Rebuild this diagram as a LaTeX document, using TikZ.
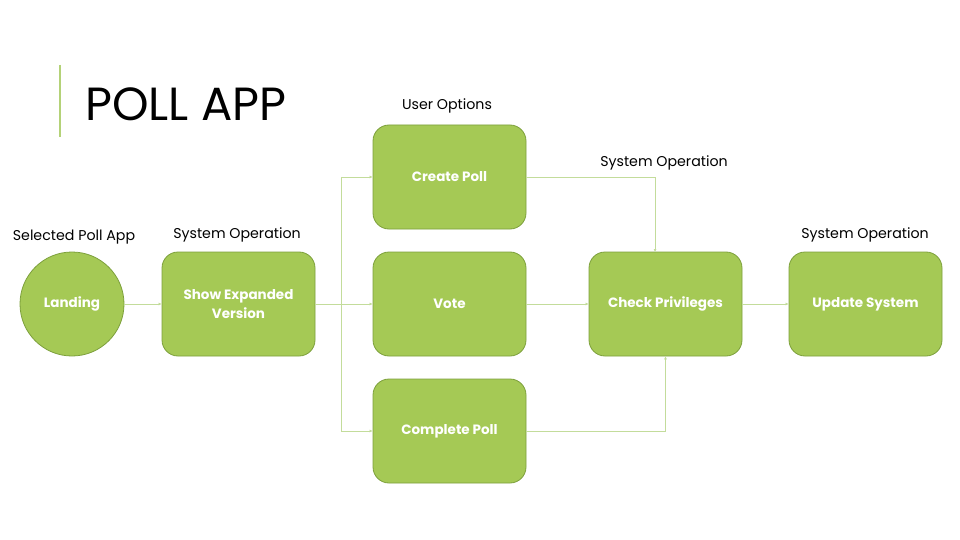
\documentclass[tikz,border=0pt]{standalone}
\usepackage{fontspec}
\setmainfont{Poppins}
\usetikzlibrary{arrows.meta}
\definecolor{boxfill}{RGB}{165,201,85}
\definecolor{boxline}{RGB}{125,160,60}
\definecolor{conncol}{RGB}{195,220,155}
\definecolor{barcol}{RGB}{180,210,120}
\tikzset{
  stepbox/.style={draw=boxline, line width=0.8pt, fill=boxfill, rounded corners=16pt,
    minimum width=153pt, minimum height=104pt, align=center, text=white,
    font=\fontsize{13.5}{19}\selectfont\bfseries},
  roundbox/.style={draw=boxline, line width=0.8pt, fill=boxfill, circle, minimum size=104pt,
    inner sep=0pt, text=white, font=\fontsize{13.5}{19}\selectfont\bfseries},
  caption/.style={font=\fontsize{14.2}{16}\selectfont, text=black},
  conn/.style={draw=conncol, line width=0.8pt, -{Latex[length=3pt,width=3pt]}},
  plain/.style={draw=conncol, line width=0.8pt}
}
\begin{document}
\begin{tikzpicture}[x=1pt,y=-1pt]
\useasboundingbox (0,0) rectangle (960,540);
\fill[white] (0,0) rectangle (960,540);
\draw[barcol, line width=2pt] (60,65) -- (60,137);
\node[anchor=base west, inner sep=0pt, font=\fontsize{46.5}{50}\selectfont] (title) at (85,121) {POLL APP};

\node[roundbox] (landing) at (72,304) {Landing};
\node[stepbox] (show) at (238.5,304) {Show Expanded\\Version};
\node[stepbox] (create) at (449.5,177) {Create Poll};
\node[stepbox] (vote) at (449.5,304) {Vote};
\node[stepbox] (complete) at (449.5,431) {Complete Poll};
\node[stepbox] (check) at (665.5,304) {Check Privileges};
\node[stepbox] (update) at (865.5,304) {Update System};

\node[caption] (l1) at (74,237) {Selected Poll App};
\node[caption] (l2) at (237,235) {System Operation};
\node[caption] (l3) at (447,106) {User Options};
\node[caption] (l4) at (664,163) {System Operation};
\node[caption] (l5) at (865,235) {System Operation};

\coordinate (br) at (341,304);
\coordinate (ctop) at (655,252);
\draw[conn] (landing) -- (show);
\draw[plain] (show.east) -- (br);
\draw[conn] (br) |- (create.west);
\draw[conn] (br) -- (vote.west);
\draw[conn] (br) |- (complete.west);
\draw[conn] (create.east) -| (ctop);
\draw[conn] (vote.east) -- (check.west);
\draw[conn] (complete.east) -| (check.south);
\draw[conn] (check.east) -- (update.west);
\end{tikzpicture}
\end{document}
